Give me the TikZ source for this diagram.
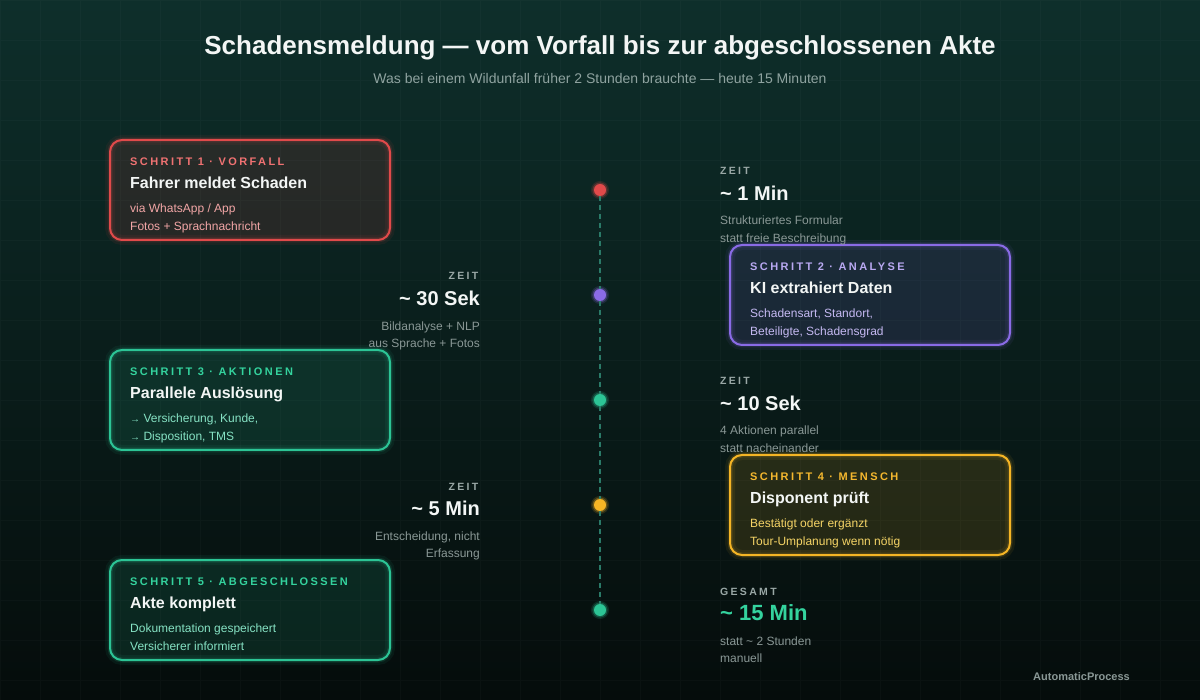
\documentclass[tikz,border=0pt]{standalone}
\usepackage{fontspec}
\setmainfont{Liberation Sans}
\newfontfamily\lsfont[LetterSpace=22]{Liberation Sans}
\definecolor{bgtop}{HTML}{0E2F2B}
\definecolor{bgbot}{HTML}{050C0B}
\definecolor{cRed}{HTML}{E04A4A}
\definecolor{cRedH}{HTML}{F07272}
\definecolor{cRedL}{HTML}{F2A6A6}
\definecolor{cPur}{HTML}{8A6BE6}
\definecolor{cPurH}{HTML}{B9A9F2}
\definecolor{cPurL}{HTML}{C5B9F2}
\definecolor{cGrn}{HTML}{2CC495}
\definecolor{cGrnH}{HTML}{34D39E}
\definecolor{cGrnL}{HTML}{86E2C4}
\definecolor{cYel}{HTML}{F5B525}
\definecolor{cYelH}{HTML}{F5B82E}
\definecolor{cYelL}{HTML}{F5D466}
\definecolor{cGrayH}{HTML}{9AA8A6}
\definecolor{cGray}{HTML}{8A9896}
\definecolor{cWhite}{HTML}{F3F6F5}
\definecolor{cDash}{HTML}{2A7A68}
\definecolor{cSub}{HTML}{8FA3A0}
\tikzset{
  stepbox/.style={rectangle, rounded corners=12pt, minimum width=280pt, minimum height=100pt,
    inner sep=0pt, draw=#1, line width=2pt, fill=#1, fill opacity=0.13,
    preaction={draw=#1, line width=10pt, draw opacity=0.07},
    preaction={draw=#1, line width=5pt, draw opacity=0.14}},
  dot/.style={circle, minimum size=12pt, inner sep=0pt, fill=#1,
    preaction={draw=#1, line width=6pt, draw opacity=0.15},
    preaction={draw=#1, line width=3pt, draw opacity=0.3}},
  timeline/.style={draw=cDash, line width=1.3pt, dash pattern=on 5pt off 4pt},
  txt/.style={inner sep=0pt, anchor=base west},
  rtxt/.style={inner sep=0pt, anchor=base east},
  head/.style={text=#1, font=\lsfont\bfseries\fontsize{11}{13}\selectfont},
  btitle/.style={text=cWhite, font=\bfseries\fontsize{16}{19}\selectfont},
  bline/.style={text=#1, font=\fontsize{12}{15}\selectfont},
  zeit/.style={text=cGrayH, font=\lsfont\bfseries\fontsize{10.5}{12}\selectfont},
  big/.style={text=#1, font=\bfseries\fontsize{20}{24}\selectfont},
  desc/.style={text=cGray, font=\fontsize{12}{15}\selectfont},
}
\begin{document}
\begin{tikzpicture}[x=1pt,y=-1pt]
\useasboundingbox (0,0) rectangle (1200,700);
\shade[top color=bgtop, bottom color=bgbot] (0,0) rectangle (1200,700);
\draw[white, opacity=0.025, line width=0.6pt, step=40pt] (0,0) grid (1200,700);

% title
\node (title) [inner sep=0pt, anchor=base, text=cWhite, font=\bfseries\fontsize{26}{30}\selectfont] at (600,55) {Schadensmeldung — vom Vorfall bis zur abgeschlossenen Akte};
\node (sub) [inner sep=0pt, anchor=base, text=cSub, font=\fontsize{14}{17}\selectfont] at (600,83.5) {Was bei einem Wildunfall früher 2 Stunden brauchte — heute 15 Minuten};

% timeline
\node (d1) [dot=cRed] at (600,190) {};
\node (d2) [dot=cPur] at (600,295) {};
\node (d3) [dot=cGrn] at (600,400) {};
\node (d4) [dot=cYel] at (600,505) {};
\node (d5) [dot=cGrn] at (600,610) {};
\draw[timeline] (d1) -- (d2);
\draw[timeline] (d2) -- (d3);
\draw[timeline] (d3) -- (d4);
\draw[timeline] (d4) -- (d5);

% step 1
\node (b1) [stepbox=cRed] at (250,190) {};
\node (b1h) [txt, head=cRedH] at (130,165.5) {SCHRITT 1 · VORFALL};
\node (b1t) [txt, btitle] at (130,188.5) {Fahrer meldet Schaden};
\node (b1a) [txt, bline=cRedL] at (130,212.7) {via WhatsApp / App};
\node (b1b) [txt, bline=cRedL] at (130,230.2) {Fotos + Sprachnachricht};

% step 2
\node (b2) [stepbox=cPur] at (870,295) {};
\node (b2h) [txt, head=cPurH] at (750,270.5) {SCHRITT 2 · ANALYSE};
\node (b2t) [txt, btitle] at (750,293.5) {KI extrahiert Daten};
\node (b2a) [txt, bline=cPurL] at (750,317.7) {Schadensart, Standort,};
\node (b2b) [txt, bline=cPurL] at (750,335.2) {Beteiligte, Schadensgrad};

% step 3
\node (b3) [stepbox=cGrn] at (250,400) {};
\node (b3h) [txt, head=cGrnH] at (130,375.5) {SCHRITT 3 · AKTIONEN};
\node (b3t) [txt, btitle] at (130,398.5) {Parallele Auslösung};
\node (b3a) [txt, bline=cGrnL] at (130,422.7) {{\fontsize{10}{12}\selectfont →} Versicherung, Kunde,};
\node (b3b) [txt, bline=cGrnL] at (130,440.2) {{\fontsize{10}{12}\selectfont →} Disposition, TMS};

% step 4
\node (b4) [stepbox=cYel] at (870,505) {};
\node (b4h) [txt, head=cYelH] at (750,480.5) {SCHRITT 4 · MENSCH};
\node (b4t) [txt, btitle] at (750,503.5) {Disponent prüft};
\node (b4a) [txt, bline=cYelL] at (750,527.7) {Bestätigt oder ergänzt};
\node (b4b) [txt, bline=cYelL] at (750,545.2) {Tour-Umplanung wenn nötig};

% step 5
\node (b5) [stepbox=cGrn] at (250,610) {};
\node (b5h) [txt, head=cGrnH] at (130,585.5) {SCHRITT 5 · ABGESCHLOSSEN};
\node (b5t) [txt, btitle] at (130,608.5) {Akte komplett};
\node (b5a) [txt, bline=cGrnL] at (130,632.7) {Dokumentation gespeichert};
\node (b5b) [txt, bline=cGrnL] at (130,650.2) {Versicherer informiert};

% time 1 (right)
\node (z1) [txt, zeit] at (720,175) {ZEIT};
\node (t1) [txt, big=cWhite] at (720,200.7) {\textasciitilde{} 1 Min};
\node (e1a) [txt, desc] at (720,225) {Strukturiertes Formular};
\node (e1b) [txt, desc] at (720,242.3) {statt freie Beschreibung};

% time 2 (left)
\node (z2) [rtxt, zeit] at (478.5,280) {ZEIT};
\node (t2) [rtxt, big=cWhite] at (480,305.7) {\textasciitilde{} 30 Sek};
\node (e2a) [rtxt, desc] at (480,330.5) {Bildanalyse + NLP};
\node (e2b) [rtxt, desc] at (480,347.3) {aus Sprache + Fotos};

% time 3 (right)
\node (z3) [txt, zeit] at (720,385) {ZEIT};
\node (t3) [txt, big=cWhite] at (720,410.7) {\textasciitilde{} 10 Sek};
\node (e3a) [txt, desc] at (720,435) {4 Aktionen parallel};
\node (e3b) [txt, desc] at (720,452.3) {statt nacheinander};

% time 4 (left)
\node (z4) [rtxt, zeit] at (478.5,490) {ZEIT};
\node (t4) [rtxt, big=cWhite] at (480,515.7) {\textasciitilde{} 5 Min};
\node (e4a) [rtxt, desc] at (480,540.5) {Entscheidung, nicht};
\node (e4b) [rtxt, desc] at (480,557.3) {Erfassung};

% total (right)
\node (z5) [txt, zeit] at (720,595) {GESAMT};
\node (t5) [txt, big=cGrnH, font=\bfseries\fontsize{22}{26}\selectfont] at (720,620.5) {\textasciitilde{} 15 Min};
\node (e5a) [txt, desc] at (720,645) {statt \textasciitilde{} 2 Stunden};
\node (e5b) [txt, desc] at (720,662.3) {manuell};

\node (brand) [rtxt, text=cGray, font=\bfseries\fontsize{11}{13}\selectfont] at (1130,680) {AutomaticProcess};
\end{tikzpicture}
\end{document}
